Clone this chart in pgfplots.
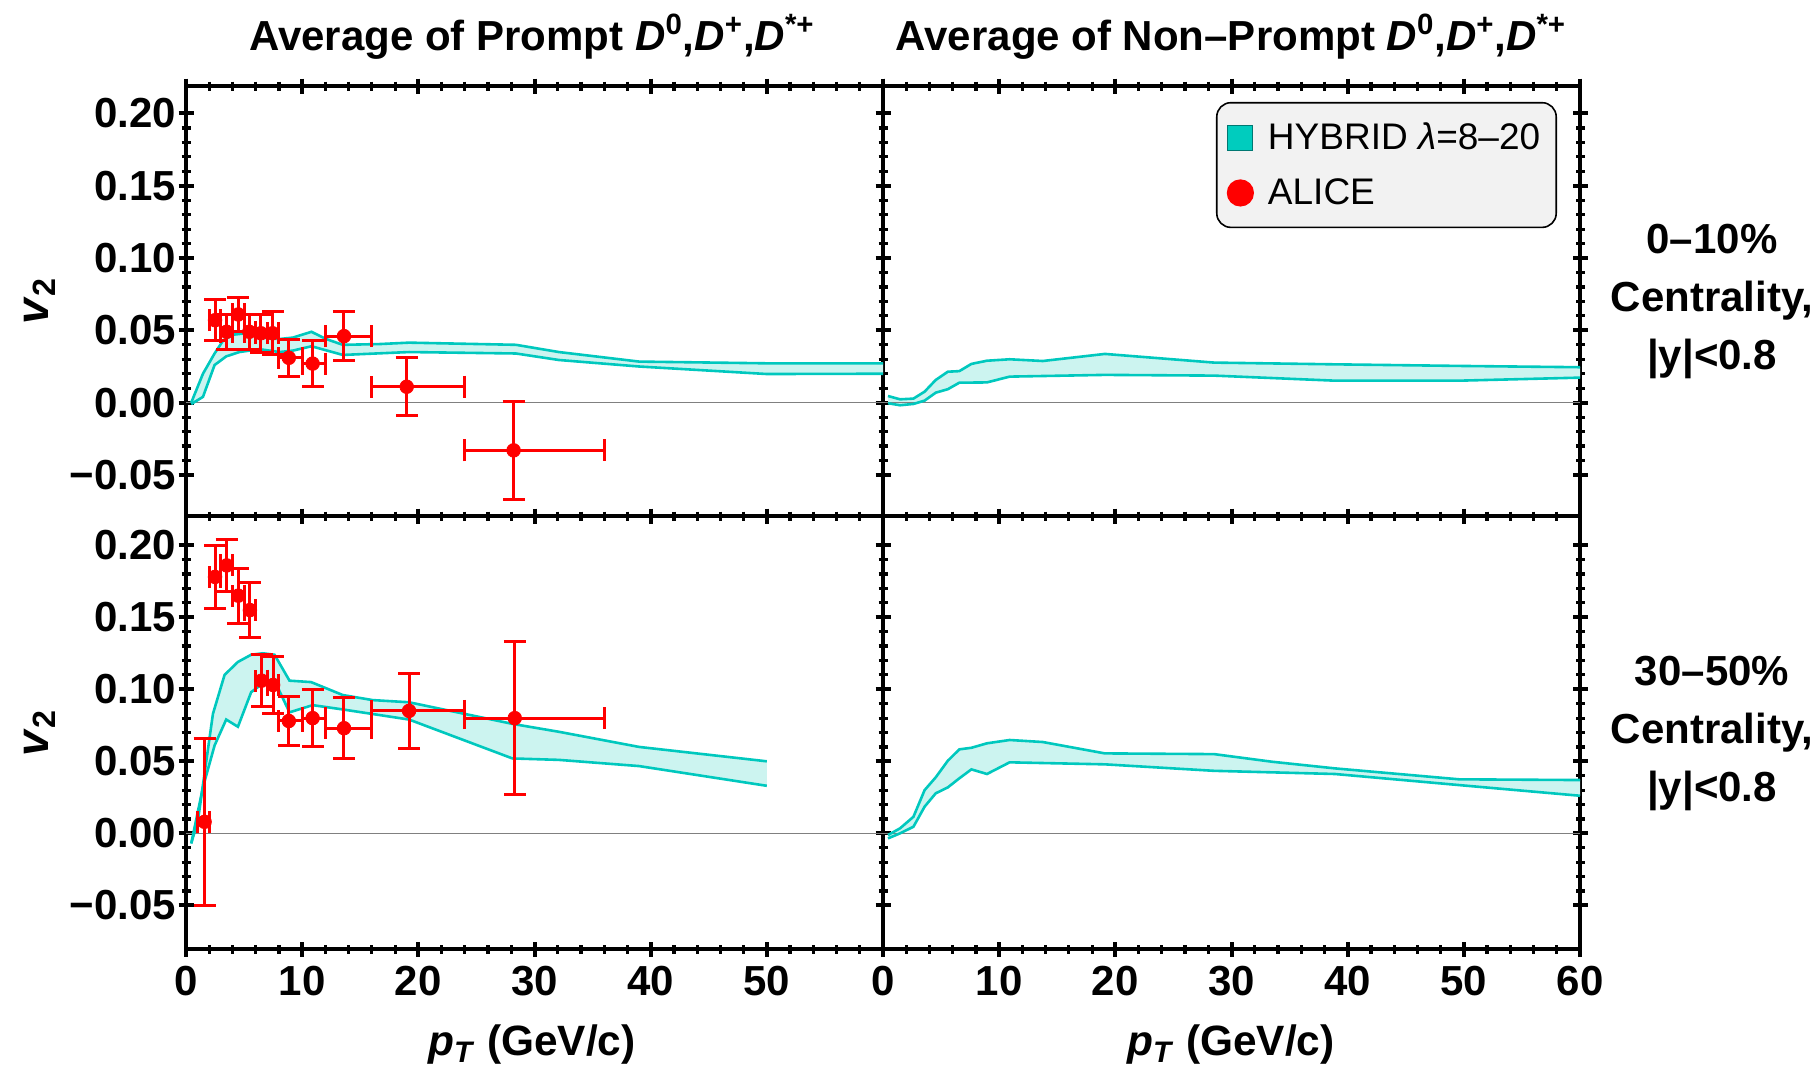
\documentclass[border=0pt]{standalone}
\usepackage{fontspec}
\setmainfont{Liberation Sans}
\usepackage{pgfplots}
\usepackage{pgfplotstable}
\usepgfplotslibrary{fillbetween}
\pgfplotsset{compat=1.18}
\definecolor{tealline}{RGB}{0,200,190}
\definecolor{tealfill}{RGB}{204,244,240}
\definecolor{tealleg}{RGB}{0,204,190}

% ---------- model bands ----------
\pgfplotstableread{
x y
0.45 0.000
1.46 0.020
2.46 0.034
3.2 0.043
4.04 0.047
5.2 0.048
6.6 0.045
8.05 0.044
9.2 0.045
10.8 0.049
12.06 0.044
13.5 0.040
16.6 0.0405
19.2 0.0415
28.4 0.040
32.1 0.035
39.0 0.0284
50.0 0.0272
60 0.0272
}\TLup
\pgfplotstableread{
x y
0.45 -0.001
1.46 0.004
2.46 0.026
3.46 0.032
4.6 0.035
6.3 0.037
8.05 0.035
9.2 0.036
10.8 0.039
13.5 0.033
19.2 0.035
28.4 0.034
32.1 0.0295
39.0 0.025
50.0 0.0198
60 0.020
}\TLlo
\pgfplotstableread{
x y
0.43 0.0046
1.47 0.0023
2.62 0.0028
3.58 0.0076
4.54 0.0157
5.58 0.0214
6.57 0.0218
7.61 0.0268
8.95 0.029
10.9 0.030
13.75 0.0288
19.1 0.0337
28.5 0.0277
38.9 0.0265
49.6 0.0254
60 0.0245
}\TRup
\pgfplotstableread{
x y
0.43 -0.0004
1.47 -0.0018
2.62 -0.0009
3.58 0.0014
4.54 0.0069
5.58 0.0093
6.57 0.0138
8.95 0.014
10.9 0.018
19.1 0.0192
28.5 0.0187
38.9 0.0152
49.6 0.0152
60 0.0173
}\TRlo
\pgfplotstableread{
x y
0.45 -0.007
1.03 0.009
2.32 0.083
3.32 0.110
4.47 0.119
5.61 0.124
6.61 0.125
7.62 0.124
8.91 0.106
10.77 0.105
13.5 0.096
16.07 0.0925
19.2 0.091
28.1 0.076
32.1 0.0705
39.0 0.060
50.0 0.050
}\BLup
\pgfplotstableread{
x y
0.45 -0.007
1.46 0.032
2.46 0.061
3.46 0.079
4.47 0.074
5.61 0.098
6.6 0.104
7.62 0.106
8.91 0.084
10.9 0.089
13.5 0.086
19.2 0.079
28.1 0.052
32.1 0.051
39.0 0.0467
50.0 0.033
}\BLlo
\pgfplotstableread{
x y
0.43 -0.0012
1.47 0.0035
2.62 0.0115
3.58 0.030
4.54 0.0389
5.58 0.0504
6.57 0.0583
7.61 0.0594
8.95 0.0625
10.9 0.0648
13.75 0.0634
19.1 0.0555
28.5 0.055
33.5 0.0497
38.9 0.0451
49.6 0.0375
60 0.037
}\BRup
\pgfplotstableread{
x y
0.43 -0.0035
1.47 0.000
2.62 0.0046
3.58 0.0185
4.54 0.0278
5.58 0.0319
6.57 0.0382
7.61 0.0444
8.95 0.0412
10.9 0.0493
19.1 0.0479
28.5 0.0434
38.9 0.0412
49.6 0.0335
60 0.0261
}\BRlo

% ---------- ALICE data ----------
\pgfplotstableread{
x y exm exq ey
2.5 0.057 0.5 0.5 0.014
3.5 0.049 0.5 0.5 0.012
4.5 0.061 0.5 0.5 0.012
5.45 0.049 0.45 0.55 0.012
6.45 0.048 0.45 0.55 0.013
7.45 0.048 0.45 0.55 0.015
8.85 0.031 0.85 1.15 0.013
10.9 0.027 0.9 1.1 0.016
13.6 0.046 1.6 2.4 0.017
19.0 0.011 3.0 5.0 0.020
28.2 -0.033 4.2 7.8 0.034
}\ALtop
\pgfplotstableread{
x y exm exq ey
1.6 0.008 0.6 0.4 0.058
2.5 0.178 0.5 0.5 0.022
3.5 0.186 0.5 0.5 0.018
4.5 0.165 0.5 0.5 0.019
5.5 0.155 0.5 0.5 0.019
6.5 0.106 0.5 0.5 0.018
7.5 0.103 0.5 0.5 0.020
8.85 0.078 0.85 1.15 0.017
10.9 0.080 0.9 1.1 0.020
13.6 0.073 1.6 2.4 0.021
19.2 0.085 3.2 4.8 0.026
28.3 0.080 4.3 7.7 0.053
}\ALbot

\pgfplotsset{
  panel/.style={
    scale only axis, width=348.5pt,
    xmin=0, xmax=60,
    xtick={0,10,...,60}, minor x tick num=4,
    ytick={-0.05,0,0.05,0.1,0.15,0.2}, minor y tick num=4,
    axis line style={line width=2pt},
    tick align=center, tick pos=both,
    xticklabel pos=lower, yticklabel pos=left,
    major tick length=7.5pt, minor tick length=4.5pt,
    major tick style={line width=2pt, black},
    minor tick style={line width=1.6pt, black},
    tick label style={font=\fontsize{21}{25}\selectfont\bfseries},
    xticklabel style={anchor=center, yshift=-12.5pt},
    yticklabel style={anchor=east, inner sep=0pt, xshift=-1pt},
  },
  toprow/.style={height=215pt, ymin=-0.0784, ymax=0.219, xticklabels={}},
  botrow/.style={height=216.5pt, ymin=-0.0803, ymax=0.2203},
  leftcol/.style={yticklabels={−0.05,0.00,0.05,0.10,0.15,0.20}},
  rightcol/.style={yticklabels={}},
  band/.style={tealline, line width=1.3pt, forget plot},
  alice/.style={only marks, mark=*, mark size=3.4pt, red, forget plot,
    error bars/.cd, x dir=both, x explicit, y dir=both, y explicit,
    error bar style={line width=1.5pt, red},
    error mark options={rotate=90, mark size=5.5pt, line width=1.5pt, red}},
}

\begin{document}
\begin{tikzpicture}
\path (0,0) rectangle (907.5pt,-535.5pt);

% ---- top left ----
\begin{axis}[panel, toprow, leftcol, at={(93pt,-43pt)}, anchor=north west]
\addplot[gray, line width=0.6pt, forget plot] coordinates {(0,0) (60,0)};
\addplot[name path=tlu, draw=none, forget plot] table[x=x,y=y] {\TLup};
\addplot[name path=tll, draw=none, forget plot] table[x=x,y=y] {\TLlo};
\addplot[tealfill, forget plot] fill between[of=tlu and tll];
\addplot[band] table[x=x,y=y] {\TLup};
\addplot[band] table[x=x,y=y] {\TLlo};
\addplot[alice] table[x=x, y=y, x error plus=exq, x error minus=exm, y error=ey] {\ALtop};
\end{axis}

% ---- top right ----
\begin{axis}[panel, toprow, rightcol, at={(441.5pt,-43pt)}, anchor=north west,
  legend style={at={(0.967,0.963)}, anchor=north east, fill=black!5, draw=black,
    line width=0.8pt, rounded corners=7pt, font=\fontsize{18.5}{21}\selectfont,
    inner xsep=5pt, inner ysep=7pt, row sep=7pt, column sep=4pt,
    nodes={inner sep=3pt}},
  legend cell align=left]
\addplot[gray, line width=0.6pt, forget plot] coordinates {(0,0) (60,0)};
\addplot[name path=tru, draw=none, forget plot] table[x=x,y=y] {\TRup};
\addplot[name path=trl, draw=none, forget plot] table[x=x,y=y] {\TRlo};
\addplot[tealfill, forget plot] fill between[of=tru and trl];
\addplot[band] table[x=x,y=y] {\TRup};
\addplot[band] table[x=x,y=y] {\TRlo};
\addlegendimage{legend image code/.code={\draw[draw=tealline!60!black, fill=tealleg, line width=0.6pt, sharp corners] (0pt,-6.25pt) rectangle (12.5pt,6.25pt);}}
\addlegendentry{HYBRID {\itshape λ}=8–20}
\addlegendimage{legend image code/.code={\fill[red] (6.25pt,0pt) circle (6.4pt);}}
\addlegendentry{ALICE}
\end{axis}

% ---- bottom left ----
\begin{axis}[panel, botrow, leftcol, at={(93pt,-258pt)}, anchor=north west,
  xticklabels={0,10,20,30,40,50,}]
\addplot[gray, line width=0.6pt, forget plot] coordinates {(0,0) (60,0)};
\addplot[name path=blu, draw=none, forget plot] table[x=x,y=y] {\BLup};
\addplot[name path=bll, draw=none, forget plot] table[x=x,y=y] {\BLlo};
\addplot[tealfill, forget plot] fill between[of=blu and bll];
\addplot[band] table[x=x,y=y] {\BLup};
\addplot[band] table[x=x,y=y] {\BLlo};
\addplot[alice] table[x=x, y=y, x error plus=exq, x error minus=exm, y error=ey] {\ALbot};
\end{axis}

% ---- bottom right ----
\begin{axis}[panel, botrow, rightcol, at={(441.5pt,-258pt)}, anchor=north west,
  xticklabels={0,10,20,30,40,50,60}]
\addplot[gray, line width=0.6pt, forget plot] coordinates {(0,0) (60,0)};
\addplot[name path=bru, draw=none, forget plot] table[x=x,y=y] {\BRup};
\addplot[name path=brl, draw=none, forget plot] table[x=x,y=y] {\BRlo};
\addplot[tealfill, forget plot] fill between[of=bru and brl];
\addplot[band] table[x=x,y=y] {\BRup};
\addplot[band] table[x=x,y=y] {\BRlo};
\end{axis}

% ---- titles and labels ----
\node[anchor=base, font=\fontsize{21}{25}\selectfont\bfseries] at (266pt,-25pt)
  {Average of Prompt \textit{D}\textsuperscript{0},\textit{D}\textsuperscript{+},\textit{D}\textsuperscript{*+}};
\node[anchor=base, font=\fontsize{21}{25}\selectfont\bfseries] at (615.5pt,-25pt)
  {Average of Non–Prompt \textit{D}\textsuperscript{0},\textit{D}\textsuperscript{+},\textit{D}\textsuperscript{*+}};
\node[rotate=90, font=\fontsize{23}{27}\selectfont\bfseries] at (20pt,-150.5pt) {\textit{v}\textsubscript{2}};
\node[rotate=90, font=\fontsize{23}{27}\selectfont\bfseries] at (20pt,-366.5pt) {\textit{v}\textsubscript{2}};
\node[inner sep=1pt, font=\fontsize{21.2}{25}\selectfont\bfseries] at (266pt,-522.5pt) {\textit{p}\textsubscript{\textit{T}} (GeV/c)};
\node[inner sep=1pt, font=\fontsize{21.2}{25}\selectfont\bfseries] at (615.5pt,-522.5pt) {\textit{p}\textsubscript{\textit{T}} (GeV/c)};
\node[align=center, inner xsep=0pt, font=\fontsize{21}{29}\selectfont\bfseries] at (856pt,-150.5pt) {0–10\%\\Centrality,\\|y|<0.8};
\node[align=center, inner xsep=0pt, font=\fontsize{21}{29}\selectfont\bfseries] at (856pt,-366.5pt) {30–50\%\\Centrality,\\|y|<0.8};
\end{tikzpicture}
\end{document}
